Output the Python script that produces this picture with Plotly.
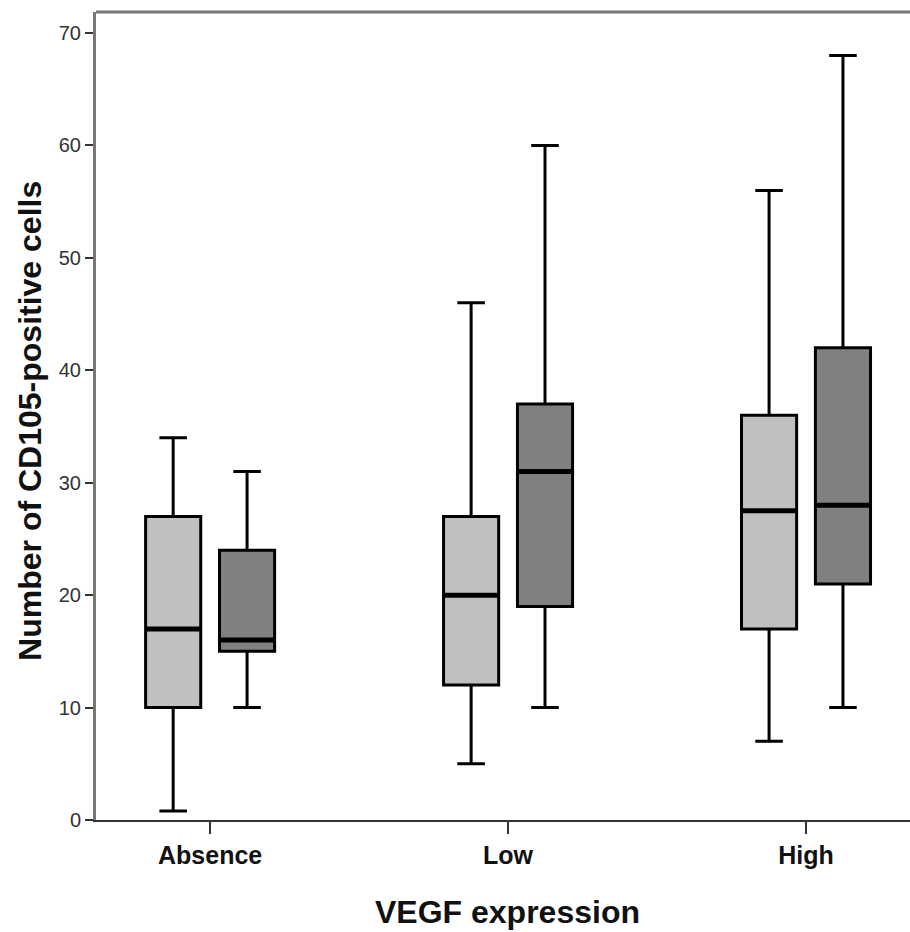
import plotly.graph_objects as go

categories = ["Absence", "Low", "High"]

# light grey series
light_lower = [0.8, 5, 7]
light_q1 = [10, 12, 17]
light_median = [17, 20, 27.5]
light_q3 = [27, 27, 36]
light_upper = [34, 46, 56]

# dark grey series
dark_lower = [10, 10, 10]
dark_q1 = [15, 19, 21]
dark_median = [16, 31, 28]
dark_q3 = [24, 37, 42]
dark_upper = [31, 60, 68]

y_ticks = [0, 10, 20, 30, 40, 50, 60, 70]

FONT = "Arial, Liberation Sans, sans-serif"

fig = go.Figure()

def add_box(name, q1, med, q3, lo, hi, fill, group):
    fig.add_trace(go.Box(
        x=categories, q1=q1, median=med, q3=q3, lowerfence=lo, upperfence=hi,
        name=name, offsetgroup=group, fillcolor=fill,
        line=dict(color="black", width=3), whiskerwidth=0.5,
        boxpoints=False, showlegend=False, hoverinfo="skip",
    ))
    # thick median line overlay
    fig.add_trace(go.Box(
        x=categories, q1=med, median=med, q3=med, lowerfence=med, upperfence=med,
        name=name + " median", offsetgroup=group, fillcolor="rgba(0,0,0,0)",
        line=dict(color="black", width=5), whiskerwidth=0,
        boxpoints=False, showlegend=False, hoverinfo="skip",
    ))

add_box("light", light_q1, light_median, light_q3, light_lower, light_upper, "#c0c0c0", "a")
add_box("dark", dark_q1, dark_median, dark_q3, dark_lower, dark_upper, "#808080", "b")

fig.update_layout(
    width=910, height=932,
    margin=dict(l=96, r=0, t=12, b=112),
    plot_bgcolor="white", paper_bgcolor="white",
    boxmode="group", boxgap=0.504, boxgroupgap=0.254,
    font=dict(family=FONT, color="#222"),
    xaxis=dict(
        type="category", range=[-0.383, 2.349],
        showline=True, linecolor="#333", linewidth=2,
        ticks="outside", ticklen=12, tickwidth=2, tickcolor="#333",
        tickfont=dict(size=25, family=FONT, color="#111"),
        showgrid=False, zeroline=False,
    ),
    yaxis=dict(
        range=[0, 71.87], tickvals=y_ticks,
        showline=True, linecolor="#777", linewidth=3,
        ticks="outside", ticklen=8, tickwidth=2, tickcolor="#333",
        tickfont=dict(size=20, family=FONT, color="#333"),
        showgrid=False, zeroline=False,
    ),
    shapes=[dict(type="line", xref="paper", yref="paper", x0=0, x1=1, y0=1, y1=1,
                 line=dict(color="#777", width=3))],
    annotations=[
        dict(text="<b>Number of CD105-positive cells</b>", xref="paper", yref="paper",
             x=-0.081, y=0.494, xanchor="center", yanchor="middle", textangle=-90,
             showarrow=False, font=dict(size=32, family=FONT, color="#111")),
        dict(text="<b>VEGF expression</b>", xref="paper", yref="paper",
             x=0.506, y=-0.114, xanchor="center", yanchor="middle",
             showarrow=False, font=dict(size=32, family=FONT, color="#111")),
    ],
)

# bold category labels
fig.update_xaxes(ticktext=["<b>%s</b>" % c for c in categories], tickvals=categories)

fig.write_html("out.html")
